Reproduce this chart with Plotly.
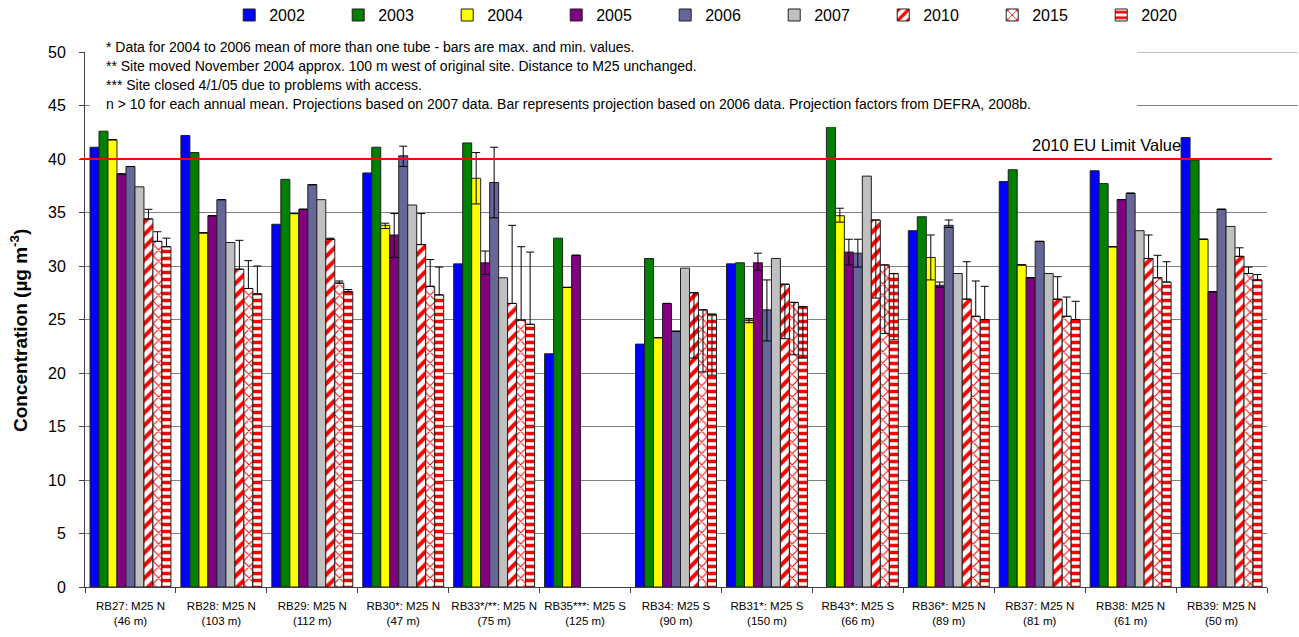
import plotly.graph_objects as go

# Monitoring sites (distance from the M25)
sites = [
    "RB27: M25 N<br>(46 m)", "RB28: M25 N<br>(103 m)", "RB29: M25 N<br>(112 m)",
    "RB30*: M25 N<br>(47 m)", "RB33*/**: M25 N<br>(75 m)", "RB35***: M25 S<br>(125 m)",
    "RB34: M25 S<br>(90 m)", "RB31*: M25 S<br>(150 m)", "RB43*: M25 S<br>(66 m)",
    "RB36*: M25 N<br>(89 m)", "RB37: M25 N<br>(81 m)", "RB38: M25 N<br>(61 m)",
    "RB39: M25 N<br>(50 m)",
]

# Annual mean NO2 (ug m-3)
v2002 = [41.1, 42.2, 33.9, 38.7, 30.2, 21.8, 22.7, 30.2, None, 33.3, 37.9, 38.9, 42.0]
v2003 = [42.6, 40.6, 38.1, 41.1, 41.5, 32.6, 30.7, 30.3, 43.3, 34.6, 39.0, 37.7, 39.9]
v2004 = [41.8, 33.1, 34.9, 33.8, 38.2, 28.0, 23.3, 24.9, 34.7, 30.8, 30.1, 31.8, 32.5]
v2005 = [38.6, 34.7, 35.3, 32.9, 30.3, 31.0, 26.5, 30.3, 31.3, 28.2, 28.9, 36.2, 27.6]
v2006 = [39.3, 36.2, 37.6, 40.3, 37.8, None, 23.9, 25.9, 31.2, 33.8, 32.3, 36.8, 35.3]
v2007 = [37.4, 32.2, 36.2, 35.7, 28.9, None, 29.8, 30.7, 38.4, 29.3, 29.3, 33.3, 33.7]

# Projections based on 2007 data
v2010 = [34.4, 29.7, 32.5, 32.0, 26.5, None, 27.5, 28.3, 34.3, 26.9, 26.9, 30.7, 30.9]
v2015 = [32.3, 27.9, 28.4, 28.1, 24.95, None, 25.9, 26.6, 30.1, 25.3, 25.3, 28.9, 29.3]
v2020 = [31.8, 27.4, 27.6, 27.3, 24.55, None, 25.5, 26.2, 29.3, 25.0, 25.0, 28.5, 28.7]

# Projections based on 2006 data (shown as error bars)
p2010 = [35.3, 32.4, 32.6, 34.9, 33.8, None, 21.4, 23.2, 27.0, 30.4, 29.0, 32.9, 31.7]
p2015 = [33.2, 30.5, 28.6, 30.6, 31.8, None, 20.1, 21.7, 23.7, 28.6, 27.1, 31.0, 29.9]
p2020 = [32.6, 30.0, 27.8, 29.9, 31.3, None, 19.8, 21.4, 23.1, 28.1, 26.7, 30.4, 29.2]

# Min / max of multi-tube sites, 2004-2006
lo2004 = [None, None, None, 33.5, 35.8, None, None, 24.7, 34.1, 28.7, None, None, None]
hi2004 = [None, None, None, 34.0, 40.6, None, None, 25.1, 35.4, 32.9, None, None, None]
lo2005 = [None, None, None, 30.8, 29.2, None, None, 29.6, 30.1, 28.0, None, None, None]
hi2005 = [None, None, None, 34.9, 31.4, None, None, 31.2, 32.5, 28.5, None, None, None]
lo2006 = [None, None, None, 39.3, 34.5, None, None, 23.0, 29.9, 33.6, None, None, None]
hi2006 = [None, None, None, 41.2, 41.1, None, None, 28.7, 32.5, 34.3, None, None, None]

notes = [
    "* Data for 2004 to 2006 mean of more than one tube - bars are max. and min. values.",
    "** Site moved November 2004 approx. 100 m west of original site. Distance to M25 unchanged.",
    "*** Site closed 4/1/05 due to problems with access.",
    "n > 10 for each annual mean. Projections based on 2007 data. Bar represents projection "
    "based on 2006 data. Projection factors from DEFRA, 2008b.",
]

FONT = "Liberation Sans, Arial, sans-serif"


def minmax_err(vals, lo, hi):
    plus, minus = [], []
    for v, a, b in zip(vals, lo, hi):
        if v is None or a is None:
            plus.append(0)
            minus.append(0)
        else:
            plus.append(b - v)
            minus.append(v - a)
    return dict(type="data", symmetric=False, array=plus, arrayminus=minus,
                color="black", thickness=1, width=4, visible=True)


def proj_err(vals, alt):
    plus, minus = [], []
    for v, a in zip(vals, alt):
        if v is None or a is None:
            plus.append(0)
            minus.append(0)
        elif a >= v:
            plus.append(a - v)
            minus.append(0)
        else:
            plus.append(0)
            minus.append(v - a)
    return dict(type="data", symmetric=False, array=plus, arrayminus=minus,
                color="black", thickness=1, width=4, visible=True)


fig = go.Figure()

solid = [
    ("2002", v2002, "#0000FF", None),
    ("2003", v2003, "#008000", None),
    ("2004", v2004, "#FFFF00", minmax_err(v2004, lo2004, hi2004)),
    ("2005", v2005, "#800080", minmax_err(v2005, lo2005, hi2005)),
    ("2006", v2006, "#666699", minmax_err(v2006, lo2006, hi2006)),
    ("2007", v2007, "#C0C0C0", None),
]
for name, vals, col, err in solid:
    fig.add_trace(go.Bar(
        name=name, x=sites, y=vals, marker=dict(color=col, line=dict(color="#202020", width=1)),
        error_y=err,
    ))

hatched = [
    ("2010", v2010, p2010, "/", 9, 0.45),
    ("2015", v2015, p2015, "x", 8, 0.25),
    ("2020", v2020, p2020, "-", 7, 0.5),
]
for name, vals, alt, shape, size, sol in hatched:
    fig.add_trace(go.Bar(
        name=name, x=sites, y=vals,
        marker=dict(color="white", line=dict(color="#202020", width=1),
                    pattern=dict(shape=shape, fgcolor="#FF0000", bgcolor="white",
                                 size=size, solidity=sol, fillmode="replace")),
        error_y=proj_err(vals, alt),
    ))

# White note box over the top of the plot
fig.add_shape(type="rect", xref="paper", yref="paper", x0=0.004, x1=0.89, y0=0.86, y1=1.04,
              fillcolor="white", line=dict(width=0), layer="above")
for i, line in enumerate(notes):
    fig.add_annotation(xref="paper", yref="paper", x=0.016, y=1.009 - i * 0.0355,
                       text=line, showarrow=False, xanchor="left", yanchor="middle",
                       font=dict(family=FONT, size=14, color="black"))

# Extra rule lines at the right of the notes
for yv in (50, 45):
    fig.add_shape(type="line", xref="paper", yref="y", x0=0.89, x1=1.026, y0=yv, y1=yv,
                  line=dict(color="#808080", width=1), layer="above")

# 2010 EU limit value
fig.add_shape(type="line", xref="paper", yref="y", x0=-0.004, x1=1.004, y0=40, y1=40,
              line=dict(color="#FF0000", width=2), layer="above")
fig.add_annotation(xref="paper", yref="y", x=0.929, y=40, yshift=14, text="2010 EU Limit Value",
                   showarrow=False, xanchor="right", yanchor="middle",
                   font=dict(family=FONT, size=16.5, color="black"))

# Y-axis title
fig.add_annotation(xref="paper", yref="paper", x=-0.056, y=0.48, xanchor="center",
                   yanchor="middle", textangle=-90, showarrow=False,
                   text="<b>Concentration (µg m<sup>-3</sup>)</b>",
                   font=dict(family=FONT, size=19, color="black"))

fig.update_layout(
    width=1299, height=637,
    margin=dict(l=85, r=32, t=52, b=50, autoexpand=False),
    paper_bgcolor="white", plot_bgcolor="white",
    barmode="group", bargap=0.11, bargroupgap=0,
    font=dict(family=FONT, color="black"),
    showlegend=True,
    legend=dict(orientation="h", x=0.122, y=1.069, xanchor="left", yanchor="middle",
                entrywidth=64, entrywidthmode="pixels", itemwidth=30,
                font=dict(family=FONT, size=16), bgcolor="rgba(0,0,0,0)",
                traceorder="normal"),
)
fig.update_xaxes(
    type="category", tickson="boundaries", ticks="outside", ticklen=5, tickcolor="#404040",
    showline=True, linecolor="#404040", linewidth=1, showgrid=False, tickangle=0,
    tickfont=dict(family=FONT, size=11.5), ticklabelstandoff=8, automargin=False,
)
fig.update_yaxes(
    range=[0, 50], tick0=0, dtick=5, ticks="outside", ticklen=5, tickcolor="#404040",
    showline=True, linecolor="#404040", linewidth=1,
    showgrid=True, gridcolor="#808080", gridwidth=1, zeroline=False,
    tickfont=dict(family=FONT, size=16), ticklabelstandoff=10,
    automargin=False,
)

fig.write_html("out.html")
